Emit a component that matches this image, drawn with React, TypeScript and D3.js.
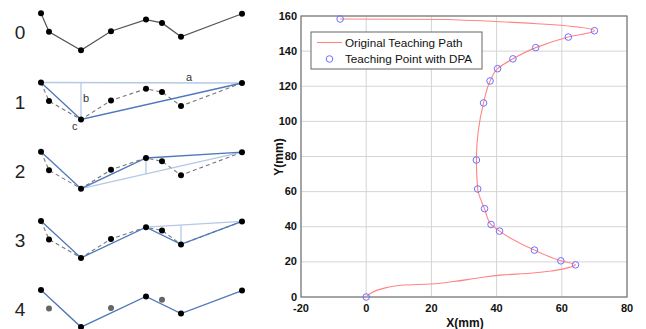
import React from "react";
import * as d3 from "d3";

// left: polyline simplification steps (offsets in diagram units)
const stepLabels = ["0", "1", "2", "3", "4"];
const polyX = [0, 8, 40, 70, 105, 121, 140, 201];
const polyY = [0, 18.5, 37, 18, 6.3, 9.6, 23.5, 0.5];
const keptByStep = [
  [0, 1, 2, 3, 4, 5, 6, 7],
  [0, 2, 7],
  [0, 2, 4, 7],
  [0, 2, 4, 6, 7],
  [0, 2, 4, 6, 7],
];
const chordByStep: (number[] | null)[] = [null, [0, 7, 2], [2, 7, 4], [4, 7, 6], null];

// right: teaching path
const pathX = [0, 5.3, 11.5, 19.6, 26.8, 33.9, 42.1, 50.3, 57.5, 62.6, 64.2, 59.7, 51.6, 40.9, 38.3, 36.3, 34.2, 33.8, 36, 38, 40.3, 45, 52, 62, 70, 25, -8];
const pathY = [0, 4.9, 6.8, 7.4, 8.8, 10.7, 12.6, 13.5, 15, 17, 18.3, 20.6, 26.7, 37.5, 41.3, 50.3, 61.5, 78, 110.5, 123, 130, 135.6, 142, 148, 151.6, 158, 158.3];
const dpaX = [0, 64.2, 59.7, 51.6, 40.9, 38.3, 36.3, 34.2, 33.8, 36, 38, 40.3, 45, 52, 62, 70, -8];
const dpaY = [0, 18.3, 20.6, 26.7, 37.5, 41.3, 50.3, 61.5, 78, 110.5, 123, 130, 135.6, 142, 148, 151.6, 158.3];
const xTicks = [-20, 0, 20, 40, 60, 80];
const yTicks = [0, 20, 40, 60, 80, 100, 120, 140, 160];
const legendLabels = ["Original Teaching Path", "Teaching Point with DPA"];

const FONT = "Liberation Sans, Arial, Helvetica, sans-serif";
const BLUE = "#4f78bb";
const LIGHT = "#b3c9e6";

function Step({ i }: { i: number }) {
  const base = 13.3 + i * 69.2;
  const sx = d3.scaleLinear().domain([0, 201]).range([41, 242]);
  const sy = d3.scaleLinear().domain([0, 40]).range([base, base + 40]);
  const pts: [number, number][] = polyX.map((x, k) => [sx(x), sy(polyY[k])]);
  const line = d3.line();
  const kept = keptByStep[i];
  const chord = chordByStep[i];
  let drop = null;
  if (chord) {
    const [a, b, c] = chord;
    const t = (pts[c][0] - pts[a][0]) / (pts[b][0] - pts[a][0]);
    const yc = pts[a][1] + t * (pts[b][1] - pts[a][1]);
    drop = [pts[c][0], yc, pts[c][1]];
  }
  return (
    <g>
      <text x={20} y={base + 26} fontSize={19} fontFamily={FONT} fill="#222" textAnchor="middle">{stepLabels[i]}</text>
      {i === 0 && <path d={line(pts) || ""} fill="none" stroke="#555" strokeWidth={1.2} />}
      {i > 0 && i < 4 && <path d={line(pts) || ""} fill="none" stroke="#777" strokeWidth={1.1} strokeDasharray="4,3" />}
      {chord && (
        <g stroke={LIGHT} strokeWidth={1.3}>
          <line x1={pts[chord[0]][0]} y1={pts[chord[0]][1]} x2={pts[chord[1]][0]} y2={pts[chord[1]][1]} />
          <line x1={drop![0]} y1={drop![1]} x2={drop![0]} y2={drop![2]} />
        </g>
      )}
      {i > 0 && <path d={line(kept.map(k => pts[k])) || ""} fill="none" stroke={BLUE} strokeWidth={1.3} />}
      {pts.map((p, k) => {
        const removed = i === 4 && !kept.includes(k);
        return <circle key={k} cx={p[0]} cy={p[1]} r={3} fill={removed ? "#666" : "#000"} />;
      })}
      {i === 1 && (
        <g fontFamily={FONT} fontSize={11} fill="#333">
          <text x={186} y={base - 2}>a</text>
          <text x={83} y={base + 19}>b</text>
          <text x={72} y={base + 47}>c</text>
        </g>
      )}
    </g>
  );
}

export default function App() {
  const x = d3.scaleLinear().domain([-20, 80]).range([301, 627]);
  const y = d3.scaleLinear().domain([0, 160]).range([297, 16]);
  const redLine = d3.line<number>().x((_, k) => x(pathX[k])).y((_, k) => y(pathY[k])).curve(d3.curveMonotoneY);

  return (
    <svg width={646} height={329} style={{ position: "absolute", left: 0, top: 0, background: "#fff" }}>
      {stepLabels.map((_, i) => <Step key={i} i={i} />)}

      <g>
        {xTicks.map(t => (
          <line key={"gx" + t} x1={x(t)} x2={x(t)} y1={y(0)} y2={y(160)} stroke="#d4d4d4" />
        ))}
        {yTicks.map(t => (
          <line key={"gy" + t} x1={x(-20)} x2={x(80)} y1={y(t)} y2={y(t)} stroke="#d4d4d4" />
        ))}
        <rect x={x(-20)} y={y(160)} width={x(80) - x(-20)} height={y(0) - y(160)} fill="none" stroke="#777" strokeWidth={1.2} />
        {xTicks.map(t => (
          <text key={"tx" + t} x={x(t)} y={311.5} textAnchor="middle" fontFamily={FONT} fontSize={11} fontWeight="bold" fill="#111">{t}</text>
        ))}
        {yTicks.map(t => (
          <text key={"ty" + t} x={297} y={y(t) + 3.5} textAnchor="end" fontFamily={FONT} fontSize={11} fontWeight="bold" fill="#111">{t}</text>
        ))}
        <text x={465} y={327} textAnchor="middle" fontFamily={FONT} fontSize={12} fontWeight="bold" fill="#111">X(mm)</text>
        <text transform={`translate(283,157) rotate(-90)`} textAnchor="middle" fontFamily={FONT} fontSize={12} fontWeight="bold" fill="#111">Y(mm)</text>

        <path d={redLine(pathX) || ""} fill="none" stroke="#ff8585" strokeWidth={1.1} />
        {dpaX.map((v, k) => (
          <circle key={"c" + k} cx={x(v)} cy={y(dpaY[k])} r={3.3} fill="none" stroke="#7070ff" strokeWidth={1} />
        ))}

        <rect x={311} y={32} width={171} height={37} fill="#fff" stroke="#666" strokeWidth={1} />
        <line x1={317} x2={342} y1={42.5} y2={42.5} stroke="#ff8585" strokeWidth={1.1} />
        <circle cx={329.5} cy={59} r={3.3} fill="none" stroke="#7070ff" />
        <text x={345} y={46.5} fontFamily={FONT} fontSize={11.7} fill="#111">{legendLabels[0]}</text>
        <text x={345} y={63} fontFamily={FONT} fontSize={11.7} fill="#111">{legendLabels[1]}</text>
      </g>
    </svg>
  );
}
